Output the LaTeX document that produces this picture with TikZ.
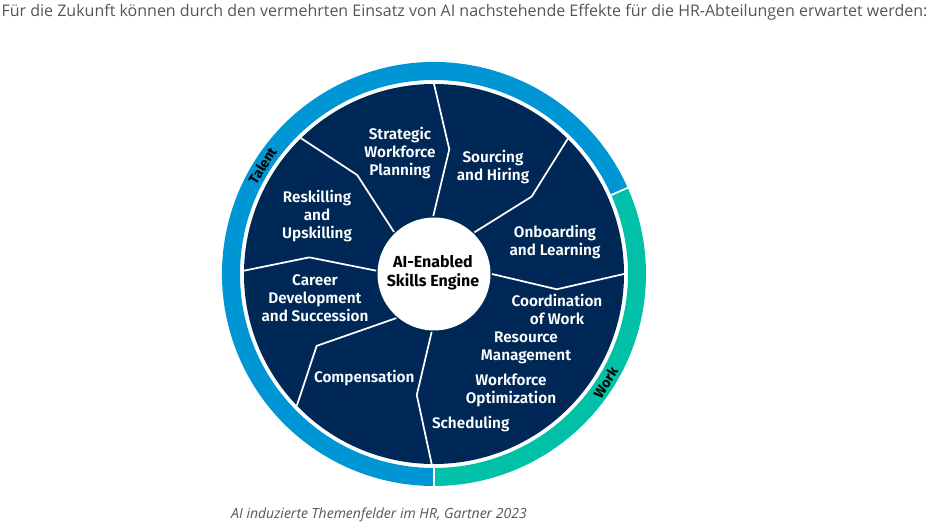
\documentclass[tikz,border=0pt]{standalone}
\usepackage{fontspec}
\setmainfont{Open Sans}
\newfontfamily\wheelfont{Fira Sans SemiBold}
\newfontfamily\hubfont{Fira Sans Bold}
\definecolor{wheelnavy}{HTML}{002856}
\definecolor{talentblue}{HTML}{0096D6}
\definecolor{workteal}{HTML}{00C1A8}
\definecolor{textgrey}{HTML}{555555}

\begin{document}
\begin{tikzpicture}[
        x=0.75pt, y=0.75pt,
        every node/.style={
            align=center,
            inner sep=0pt
        },
        segtext/.style={text=white, font=\wheelfont\fontsize{11.5}{13.5}\selectfont},
        ringtext/.style={font=\hubfont\fontsize{10.5}{12}\selectfont, rotate=57.7},
        divider/.style={draw=white, line width=1.3pt, line join=round}
    ]
        \useasboundingbox (-434,-250) rectangle (495,274);

        % outer ring
        \fill[talentblue] (24:212) arc[start angle=24, end angle=270, radius=212]
            -- (270:194) arc[start angle=270, end angle=24, radius=194] -- cycle;
        \fill[workteal] (-90:212) arc[start angle=-90, end angle=24, radius=212]
            -- (24:194) arc[start angle=24, end angle=-90, radius=194] -- cycle;
        \draw[divider] (24:193) -- (24:213);
        \draw[divider] (270:193) -- (270:213);

        % wheel
        \fill[wheelnavy] (0,0) circle[radius=190];
        \draw[divider] (90:190) -- (83:125.6) -- (90.7:58);
        \draw[divider] (45.3:190) -- (38.4:124.6) -- (45.9:58);
        \draw[divider] (0:190) -- (-7.1:123.7) -- (0:58);
        \draw[divider] (-90.7:190) -- (-98.1:122.2) -- (-92.3:58);
        \draw[divider] (223.8:190) -- (211.5:137.6) -- (229.5:58);
        \draw[divider] (179:190) -- (172.4:125.8) -- (176.7:58);
        \draw[divider] (134.4:190) -- (127.8:125.2) -- (133.6:58);
        \fill[white] (0,0) circle[radius=56.5];

        \node (engine) at (-1,1) [font=\hubfont\fontsize{12}{14}\selectfont] {AI-Enabled\\Skills Engine};

        \node (strategic) at (-34,121) [segtext] {Strategic\\Workforce\\Planning};
        \node (sourcing) at (59,107) [segtext] {Sourcing\\and Hiring};
        \node (onboarding) at (121,32) [segtext] {Onboarding\\and Learning};
        \node (coordination) at (123,-35) [segtext] {Coordination\\of Work};
        \node (resource) at (92,-74) [segtext] {Resource\\Management};
        \node (optimization) at (77,-116.5) [segtext] {Workforce\\Optimization};
        \node (scheduling) at (36.7,-150) [segtext] {Scheduling};
        \node (compensation) at (-69.7,-103.7) [segtext] {Compensation};
        \node (career) at (-119,-24) [segtext] {Career\\Development\\and Succession};
        \node (reskilling) at (-117,58) [segtext] {Reskilling\\and\\Upskilling};

        \node (talent) at (147.7:203) [ringtext] {Talent};
        \node (work) at (-32.3:203) [ringtext] {Work};

        \node (heading) at (30.5,262) [text=textgrey, font=\fontsize{12}{14}\selectfont]
            {Für die Zukunft können durch den vermehrten Einsatz von AI nachstehende Effekte für die HR-Abteilungen erwartet werden:};
        \node (caption) at (-55,-241) [text=textgrey, font=\itshape\fontsize{10.5}{12}\selectfont]
            {AI induzierte Themenfelder im HR, Gartner 2023};
    \end{tikzpicture}
\end{document}
